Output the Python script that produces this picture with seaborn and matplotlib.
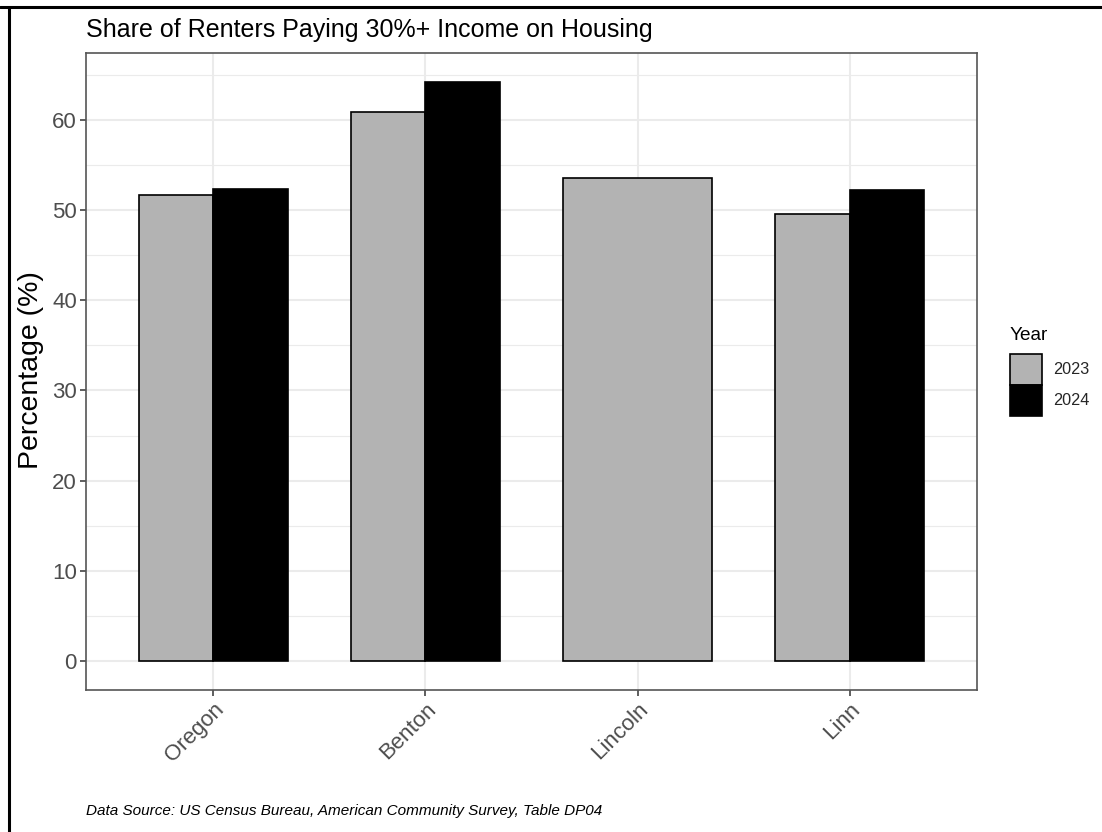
import matplotlib
matplotlib.use("Agg")
import numpy as np
import pandas as pd
import seaborn as sns
import matplotlib.pyplot as plt
from matplotlib.lines import Line2D
from matplotlib.patches import Patch
from matplotlib.ticker import MultipleLocator

# ---------------- data ----------------
counties = ["Oregon", "Benton", "Lincoln", "Linn"]
years = ["2023", "2024"]
pct_2023 = [51.7, 60.9, 53.5, 49.6]
pct_2024 = [52.3, 64.2, None, 52.2]
year_colors = {"2023": "#B3B3B3", "2024": "#000000"}
y_ticks = [0, 10, 20, 30, 40, 50, 60]

title_text = "Share of Renters Paying 30%+ Income on Housing"
ylabel_text = "Percentage (%)"
legend_title = "Year"
caption_text = "Data Source: US Census Bureau, American Community Survey, Table DP04"

rows = []
for c, a, b in zip(counties, pct_2023, pct_2024):
    if a is not None:
        rows.append((c, "2023", a))
    if b is not None:
        rows.append((c, "2024", b))
df = pd.DataFrame(rows, columns=["County", "Year", "Pct"])
n_per = df.groupby("County")["Year"].transform("count")
paired = df[n_per == 2]
single = df[n_per == 1]

# ---------------- style ----------------
sns.set_theme(style="white")
plt.rcParams["font.family"] = ["Liberation Sans", "DejaVu Sans"]

W, H = 1102, 832
fig = plt.figure(figsize=(W / 100, H / 100), dpi=100)
fig.patch.set_facecolor("white")
pl, pr, pt, pb = 86, 977, 53, 690
ax = fig.add_axes([pl / W, 1 - pb / H, (pr - pl) / W, (pb - pt) / H])

sns.barplot(data=paired, x="County", y="Pct", hue="Year", order=counties,
            hue_order=years, palette=year_colors, width=0.7, gap=0,
            saturation=1, edgecolor="black", linewidth=1.2, errorbar=None,
            legend=False, ax=ax)
sns.barplot(data=single, x="County", y="Pct", order=counties,
            color=year_colors["2023"], width=0.7, saturation=1,
            edgecolor="black", linewidth=1.2, errorbar=None, ax=ax)

ymax = df["Pct"].max()
ax.set_ylim(-0.05 * ymax, ymax * 1.05)
ax.set_xlim(-0.6, len(counties) - 0.4)
ax.set_yticks(y_ticks)
ax.yaxis.set_minor_locator(MultipleLocator(5))
ax.set_axisbelow(True)
ax.grid(True, which="major", color="#EBEBEB", linewidth=1.5)
ax.grid(True, which="minor", axis="y", color="#EBEBEB", linewidth=0.8)
ax.set_xlabel("")
ax.set_ylabel("")

for s in ax.spines.values():
    s.set_visible(True)
    s.set_color("#555555")
    s.set_linewidth(1.2)

ax.tick_params(axis="both", which="major", length=4, width=1.1, color="#333333",
               labelcolor="#4D4D4D", labelsize=16, pad=2.5, left=True, bottom=True)
ax.tick_params(axis="y", which="minor", length=0)
for lab in ax.get_xticklabels():
    lab.set_rotation(45)
    lab.set_ha("right")
    lab.set_va("top")
    lab.set_rotation_mode("anchor")

# legend (keys stacked, touching)
handles = [Patch(facecolor=year_colors[y], edgecolor="black", linewidth=1.2) for y in years]
leg = fig.legend(handles, years, loc="upper left",
                 bbox_to_anchor=(1010 / W, 1 - 354 / H), frameon=False,
                 fontsize=11.7, handlelength=1.97,
                 handleheight=2.56, labelspacing=0.0, handletextpad=0.68,
                 borderpad=0, borderaxespad=0)
fig.text(1010 / W, 1 - 340 / H, legend_title, ha="left", va="baseline",
         fontsize=13.7, color="black")

# texts
fig.text(pl / W, 1 - 37 / H, title_text, ha="left", va="baseline",
         fontsize=18, color="black")
fig.text(31 / W, 1 - 370 / H, ylabel_text, rotation=90,
         ha="center", va="center", fontsize=20.5, color="black")
fig.text(pl / W, 1 - 811 / H, caption_text, ha="left", va="center",
         fontsize=11, style="italic", color="black")

# outer frame (screenshot border)
fig.add_artist(Line2D([0, 1], [1 - 7 / H, 1 - 7 / H], transform=fig.transFigure,
                      color="black", linewidth=2.2))
fig.add_artist(Line2D([9 / W, 9 / W], [0, 1 - 7 / H], transform=fig.transFigure,
                      color="black", linewidth=2.2))

fig.savefig("out.png", dpi=100, facecolor="white")
